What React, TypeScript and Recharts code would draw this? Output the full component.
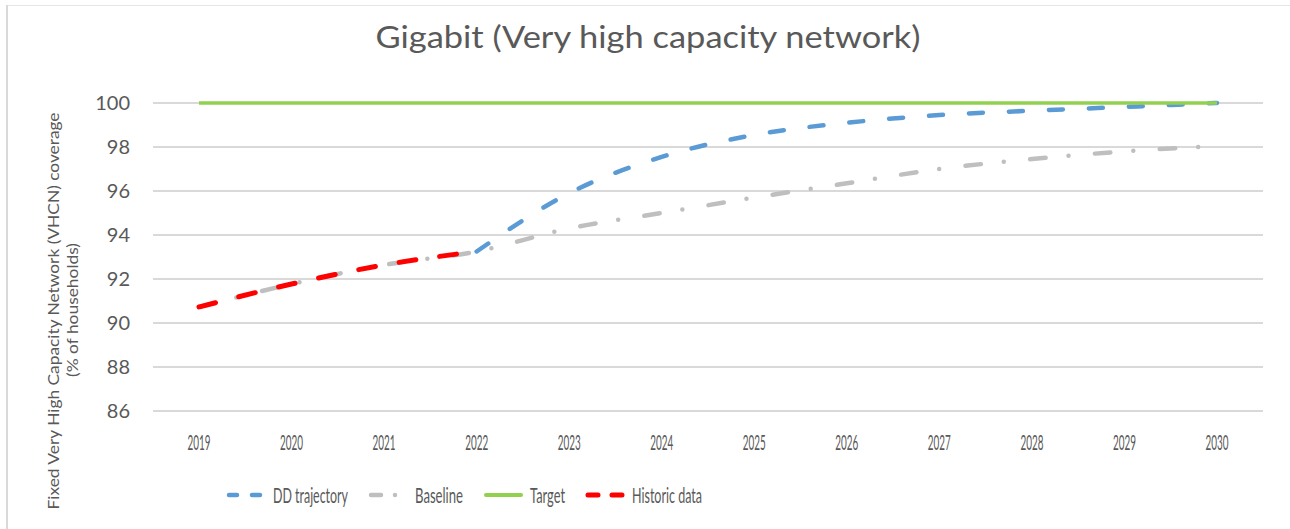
import { LineChart, Line, XAxis, YAxis, CartesianGrid, Legend } from "recharts";

const years = ["2019", "2020", "2021", "2022", "2023", "2024", "2025", "2026", "2027", "2028", "2029", "2030"];
const ddTrajectory = [null, null, null, 93.25, 95.9, 97.55, 98.55, 99.1, 99.45, 99.65, 99.82, 100];
const baseline = [90.73, 91.77, 92.64, 93.25, 94.3, 95.0, 95.7, 96.35, 97.0, 97.45, 97.8, 98.05];
const target = [100, 100, 100, 100, 100, 100, 100, 100, 100, 100, 100, 100];
const historic = [90.73, 91.77, 92.64, 93.25, null, null, null, null, null, null, null, null];
const yTicks = [86, 88, 90, 92, 94, 96, 98, 100];

const FONT = "Lato, 'Open Sans', sans-serif";
const TEXT = "#595959";

const data = years.map((year, i) => ({
  year,
  dd: ddTrajectory[i],
  baseline: baseline[i],
  target: target[i],
  historic: historic[i],
}));

const legendItems = [
  { label: "DD trajectory", color: "#5b9bd5", dash: "8 15", width: 4.5, textLen: 75 },
  { label: "Baseline", color: "#bfbfbf", dash: "10 14 0 14", width: 4.5, textLen: 48 },
  { label: "Target", color: "#92d050", dash: undefined, width: 4, textLen: 35 },
  { label: "Historic data", color: "#ff0000", dash: "10 14", width: 5, textLen: 70 },
];

const renderLegend = () => {
  let x = 227;
  const y = 495;
  const items = legendItems.map((it) => {
    const sx = x;
    const tx = sx + 39 + 7;
    x = tx + it.textLen + 21;
    return (
      <g key={it.label}>
        <line
          x1={sx + 2}
          x2={sx + 37}
          y1={y}
          y2={y}
          stroke={it.color}
          strokeWidth={it.width}
          strokeDasharray={it.dash}
          strokeLinecap="round"
        />
        <text
          x={tx}
          y={y + 7.5}
          style={{ fontSize: 21, fontFamily: FONT, fill: TEXT }}
          textLength={it.textLen}
          lengthAdjust="spacingAndGlyphs"
        >
          {it.label}
        </text>
      </g>
    );
  });
  return (
    <svg width={1290} height={40} viewBox="0 475 1290 40" style={{ display: "block" }}>
      {items}
    </svg>
  );
};

const renderXTick = (props: any) => {
  const { x, y, payload } = props;
  return (
    <text
      key={payload.value}
      x={x}
      y={y + 37}
      textAnchor="middle"
      style={{ fontSize: 21, fontFamily: FONT, fill: TEXT }}
      textLength={23}
      lengthAdjust="spacingAndGlyphs"
    >
      {payload.value}
    </text>
  );
};

const App = () => {
  return (
    <div style={{ position: "absolute", left: 0, top: 0, width: 1290, height: 529, background: "#fff" }}>
      <LineChart
        width={1290}
        height={529}
        data={data}
        margin={{ top: 103, right: 27, bottom: 88, left: 0 }}
      >
        <CartesianGrid vertical={false} stroke="#d9d9d9" strokeWidth={2} />
        <XAxis
          dataKey="year"
          height={30}
          padding={{ left: 46, right: 46 }}
          axisLine={{ stroke: "#d9d9d9", strokeWidth: 2 }}
          tickLine={false}
          tickSize={0}
          tick={renderXTick}
          interval={0}
        />
        <YAxis
          width={153}
          domain={[86, 100]}
          ticks={yTicks}
          axisLine={false}
          tickLine={false}
          tickSize={0}
          tickMargin={23}
          tick={{ fill: TEXT, fontSize: 20, fontFamily: FONT }}
        />
        <Legend
          layout="vertical"
          align="center"
          verticalAlign="middle"
          content={renderLegend}
          wrapperStyle={{ left: 0, top: 475, width: 1290, height: 40 }}
        />
        <Line
          type="monotone"
          dataKey="dd"
          stroke="#5b9bd5"
          strokeWidth={4.5}
          strokeDasharray="14 26"
          strokeLinecap="round"
          dot={false}
          activeDot={false}
          isAnimationActive={false}
        />
        <Line
          type="monotone"
          dataKey="baseline"
          stroke="#bfbfbf"
          strokeWidth={4.5}
          strokeDasharray="15.5 23 0 26.5"
          strokeLinecap="round"
          dot={false}
          activeDot={false}
          isAnimationActive={false}
        />
        <Line
          type="monotone"
          dataKey="target"
          stroke="#92d050"
          strokeWidth={3.5}
          dot={false}
          activeDot={false}
          isAnimationActive={false}
        />
        <Line
          type="monotone"
          dataKey="historic"
          stroke="#ff0000"
          strokeWidth={5}
          strokeDasharray="17 24"
          strokeLinecap="round"
          dot={false}
          activeDot={false}
          isAnimationActive={false}
        />
      </LineChart>
      <svg
        width={1290}
        height={529}
        style={{ position: "absolute", left: 0, top: 0, pointerEvents: "none" }}
      >
        <line x1={7} x2={1290} y1={5.5} y2={5.5} stroke="#e6e6e6" strokeWidth={1} />
        <line x1={7} x2={7} y1={5} y2={529} stroke="#d9d9d9" strokeWidth={2} />
        <text
          x={648}
          y={48}
          textAnchor="middle"
          style={{ fontSize: 31, fontFamily: FONT, fill: TEXT }}
          textLength={545}
          lengthAdjust="spacingAndGlyphs"
        >
          Gigabit (Very high capacity network)
        </text>
        <text
          transform="translate(59 311) rotate(-90)"
          textAnchor="middle"
          style={{ fontSize: 15, fontFamily: FONT, fill: TEXT }}
          textLength={397}
          lengthAdjust="spacingAndGlyphs"
        >
          Fixed Very  High Capacity Network  (VHCN) coverage
        </text>
        <text
          transform="translate(78 310) rotate(-90)"
          textAnchor="middle"
          style={{ fontSize: 15, fontFamily: FONT, fill: TEXT }}
          textLength={134}
          lengthAdjust="spacingAndGlyphs"
        >
          (% of households)
        </text>
      </svg>
    </div>
  );
};

export default App;
